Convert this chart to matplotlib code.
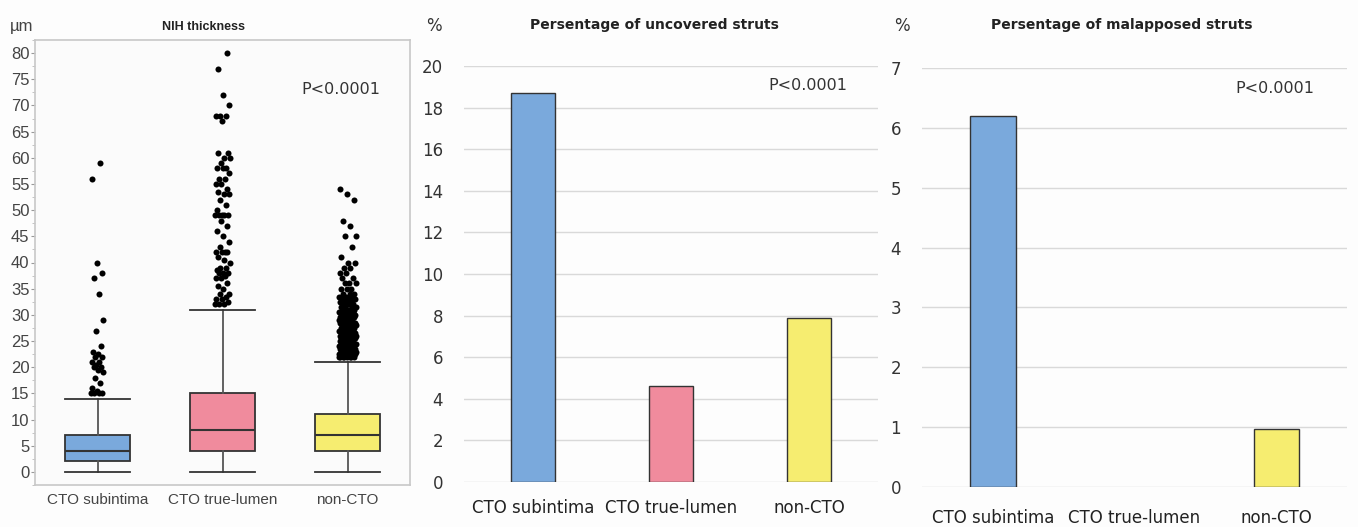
import numpy as np
import matplotlib
matplotlib.use("Agg")
import matplotlib.pyplot as plt
from matplotlib.ticker import MultipleLocator

categories = ["CTO subintima", "CTO true-lumen", "non-CTO"]
colors = ["#7aa9dc", "#f08b9d", "#f6ed70"]

# NIH thickness box statistics (µm)
whis_lo = [0, 0, 0]
q1 = [2, 4, 4]
median = [4, 8, 7]
q3 = [7, 15, 11]
whis_hi = [14, 31, 21]

subintima_outliers = [15, 15, 15, 15, 15.5, 16, 17, 18, 19, 19.5, 20, 20, 20.5, 21, 21,
                      22, 22, 22.5, 23, 24, 27, 29, 34, 37, 38, 40, 56, 59]
truelumen_outliers = [32, 32, 32, 32.5, 33, 33, 33.5, 34, 34, 35, 35.5, 36, 37, 37, 37.5,
                      38, 38, 38, 38.5, 39, 39, 40, 40.5, 41, 42, 42, 42, 42, 43, 44, 45,
                      46, 47, 48, 49, 49, 49, 49, 49, 50, 51, 52, 53, 53, 53.5, 54, 55, 55,
                      56, 56, 57, 58, 58, 58, 59, 60, 60, 61, 61, 67, 68, 68, 68, 70, 72,
                      77, 80]
noncto_outlier_values = [22, 22.5, 23, 23.5, 24, 24.5, 25, 25.5, 26, 26.5, 27, 27.5, 28,
                         28.5, 29, 29.5, 30, 30.5, 31, 31.5, 32, 32.5, 33, 33.5, 34,
                         35, 36, 37, 38, 39, 40, 41,
                         43, 45, 47, 48, 52, 53, 54]
noncto_outlier_counts = [8, 8, 7, 7, 7, 6, 6, 6, 6, 5, 5, 5, 5, 5, 5, 4, 4, 4, 4, 4, 4, 3,
                         3, 3, 3,
                         3, 3, 2, 2, 2, 2, 1,
                         1, 2, 1, 1, 1, 1, 1]

uncovered_pct = [18.7, 4.6, 7.9]
malapposed_pct = [6.2, 0.0, 0.97]

W, H = 1358, 527
fig = plt.figure(figsize=(W / 100, H / 100), dpi=100, facecolor="#fdfdfd")

def rect(x0, y0, x1, y1):
    return [x0 / W, 1 - y1 / H, (x1 - x0) / W, (y1 - y0) / H]

narrow = ["Liberation Sans", "DejaVu Sans"]
tick_col = "#444444"

# ---------- Panel 1: box plot ----------
ax1 = fig.add_axes(rect(35, 40, 410, 485))
ax1.set_facecolor("#fbfbfb")
outliers = [subintima_outliers, truelumen_outliers,
            list(np.repeat(noncto_outlier_values, noncto_outlier_counts))]
stats = []
for i in range(3):
    stats.append(dict(med=median[i], q1=q1[i], q3=q3[i], whislo=whis_lo[i],
                      whishi=whis_hi[i], fliers=[]))
bp = ax1.bxp(stats, positions=[0, 1, 2], widths=0.52, showfliers=False,
             patch_artist=True,
             boxprops=dict(edgecolor="#333333", linewidth=1.3),
             medianprops=dict(color="#333333", linewidth=1.5),
             whiskerprops=dict(color="#555555", linewidth=1.3),
             capprops=dict(color="#333333", linewidth=1.3),
             capwidths=0.52)
for patch, c in zip(bp["boxes"], colors):
    patch.set_facecolor(c)

spreads = [0.05, 0.06, 0.07]
for i, vals in enumerate(outliers):
    vals = np.asarray(vals, dtype=float)
    n = len(vals)
    jit = ((np.arange(n) * 0.6180339887) % 1.0 - 0.5) * 2 * spreads[i]
    ax1.scatter(i + jit, vals, s=19, color="black", zorder=5, linewidths=0)

ax1.set_xlim(-0.5, 2.5)
ax1.set_ylim(-2.5, 82.5)
ax1.yaxis.set_major_locator(MultipleLocator(5))
ax1.yaxis.set_minor_locator(MultipleLocator(2.5))
ax1.tick_params(axis="y", which="major", length=3, color="#999999", pad=1,
                labelsize=12, labelcolor=tick_col)
ax1.tick_params(axis="y", which="minor", length=2, color="#bbbbbb")
ax1.tick_params(axis="x", length=0, pad=6, labelsize=11, labelcolor=tick_col)
ax1.set_xticks([0, 1, 2])
ax1.set_xticklabels(categories)
for lab in ax1.get_xticklabels() + ax1.get_yticklabels():
    lab.set_family(narrow)
for sp in ax1.spines.values():
    sp.set_color("#c8c8c8")
    sp.set_linewidth(1.2)
ax1.text(1.95, 73, "P<0.0001", ha="center", va="center", fontsize=11.5, color="#333333")
fig.text(22 / W, 1 - 27 / H, "µm", ha="center", va="center", fontsize=12,
         color=tick_col, family=narrow)
fig.text(203 / W, 1 - 27 / H, "NIH thickness", ha="center", va="center",
         fontsize=9, fontweight="bold", color="#222222", family=narrow)

# ---------- bar panels ----------
def bar_panel(r, values, ymax, title, title_x, pct_x, xpad):
    ax = fig.add_axes(rect(*r))
    ax.set_facecolor("#fdfdfd")
    bars = ax.bar(range(3), values, width=0.32, color=colors, edgecolor="#333333",
                  linewidth=1.0, zorder=3)
    for b in bars:
        if b.get_height() == 0:
            b.set_visible(False)
    ax.set_xlim(-0.5, 2.5)
    ax.set_ylim(0, ymax)
    ax.set_yticks(range(0, ymax + 1, 2 if ymax > 10 else 1))
    ax.yaxis.grid(True, color="#d9d9d9", linewidth=1.0, zorder=0)
    ax.set_axisbelow(True)
    for sp in ax.spines.values():
        sp.set_visible(False)
    ax.tick_params(axis="y", length=0, pad=15, labelsize=12, labelcolor="#333333")
    ax.tick_params(axis="x", length=0, pad=xpad, labelsize=12, labelcolor="#222222")
    ax.set_xticks([0, 1, 2])
    ax.set_xticklabels(categories)
    ax.text(1.99, ymax * 0.952, "P<0.0001", ha="center", va="center",
            fontsize=11.5, color="#333333")
    fig.text(title_x / W, 1 - 25 / H, title, ha="center", va="center",
             fontsize=10, fontweight="bold", color="#222222")
    fig.text(pct_x / W, 1 - 26 / H, "%", ha="center", va="center",
             fontsize=12, color="#333333")
    return ax

bar_panel((464, 66, 878, 482), uncovered_pct, 20,
          "Persentage of uncovered struts", 654, 434, 12)
bar_panel((922, 68, 1347, 487), malapposed_pct, 7,
          "Persentage of malapposed struts", 1122, 902, 16)

fig.savefig("out.png", dpi=100, facecolor=fig.get_facecolor())
